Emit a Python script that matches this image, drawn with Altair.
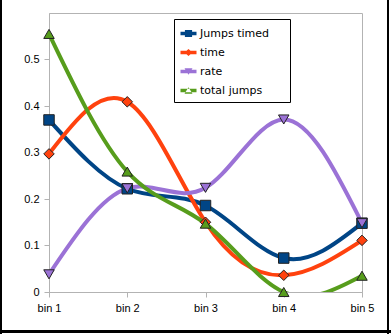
import altair as alt
import pandas as pd

bins = ["bin 1", "bin 2", "bin 3", "bin 4", "bin 5"]
series = ["Jumps timed", "time", "rate", "total jumps"]
jumps_timed = [0.37, 0.222, 0.186, 0.073, 0.148]
time_vals = [0.297, 0.409, 0.15, 0.036, 0.111]
rate_vals = [0.038, 0.223, 0.224, 0.371, 0.148]
total_jumps = [0.555, 0.259, 0.147, 0.0, 0.035]
colors = ["#004586", "#ff420e", "#9b72d6", "#579d1c"]
shapes = ["square", "diamond", "triangle-down", "triangle-up"]

rows = []
for name, vals in zip(series, [jumps_timed, time_vals, rate_vals, total_jumps]):
    for b, v in zip(bins, vals):
        rows.append({"series": name, "key": name, "bin": b, "value": v,
                     "order": series.index(name)})
df = pd.DataFrame(rows)

W, H = 313, 279

bar = "M-1,-0.22H1V0.22H-1Z"
legend_shapes = [
    bar + "M-0.45,-0.45H0.45V0.45H-0.45Z",
    bar + "M0,-0.45L0.5,0L0,0.45L-0.5,0Z",
    bar + "M-0.5,-0.42L0.5,-0.42L0,0.42Z",
    bar + "M-0.5,0.42L0.5,0.42L0,-0.42Z",
]

x_enc = alt.X("bin:N", sort=bins, scale=alt.Scale(domain=bins, padding=0),
              axis=alt.Axis(title=None, labelAngle=0, grid=False))
y_enc = alt.Y("value:Q", scale=alt.Scale(domain=[0, 0.6], nice=False),
              axis=alt.Axis(title=None, values=[0, 0.1, 0.2, 0.3, 0.4, 0.5],
                            format="~g", grid=False))
color_scale = alt.Scale(domain=series, range=colors)

lines = alt.Chart(df).mark_line(interpolate="natural", strokeWidth=4, clip=True).encode(
    x=x_enc, y=y_enc,
    color=alt.Color("series:N", scale=color_scale, legend=None),
    order="order:Q",
)

points = alt.Chart(df).mark_point(filled=True, size=110, opacity=1,
                                  stroke="#222222", strokeWidth=1).encode(
    x=x_enc, y=y_enc,
    color=alt.Color("series:N", scale=color_scale, legend=None),
    shape=alt.Shape("series:N", scale=alt.Scale(domain=series, range=shapes), legend=None),
    order="order:Q",
)

legend = alt.Legend(
    title="m", titleOrient="right", titleColor="white", titleFont="DejaVu Sans",
    titleFontSize=11, titlePadding=3,
    orient="none", legendX=125, legendY=6,
    padding=6, strokeColor="black", fillColor="white",
    symbolSize=256, rowPadding=5, labelOffset=3,
    labelFont="DejaVu Sans", labelFontSize=11, labelColor="black",
    symbolOpacity=1, symbolStrokeColor="#333333", symbolStrokeWidth=0.5,
)
legend_layer = alt.Chart(df).transform_filter("false").mark_point(
    filled=True, opacity=1).encode(
    x=x_enc, y=y_enc,
    color=alt.Color("key:N", scale=alt.Scale(domain=series, range=colors), legend=legend),
    shape=alt.Shape("key:N", scale=alt.Scale(domain=series, range=legend_shapes), legend=legend),
)

one = pd.DataFrame({"a": [0]})
frame_left = alt.Chart(one).mark_rule(color="black", strokeWidth=2).encode(
    x=alt.value(-48), y=alt.value(-13), y2=alt.value(H + 42))
frame_right = alt.Chart(one).mark_rule(color="black", strokeWidth=2).encode(
    x=alt.value(W + 26), y=alt.value(-13), y2=alt.value(H + 42))
frame_bottom = alt.Chart(one).mark_rule(color="black", strokeWidth=3).encode(
    x=alt.value(-49), x2=alt.value(W + 29), y=alt.value(H + 39.5))

chart = alt.layer(lines, points, legend_layer, frame_left, frame_right, frame_bottom).resolve_scale(
    color="independent", shape="independent"
).properties(
    width=W, height=H,
    padding={"left": 49, "top": 13, "right": 29, "bottom": 42},
    autosize=alt.AutoSizeParams(type="none"),
    background="white",
).configure_view(stroke="#b3b3b3", strokeWidth=1).configure_axis(
    domainColor="#b3b3b3", tickColor="#b3b3b3", tickSize=5, labelPadding=5,
    labelFont="Liberation Sans", labelFontSize=11, labelColor="black",
)

chart.save("out.html", embed_options={"renderer": "svg", "actions": False})
